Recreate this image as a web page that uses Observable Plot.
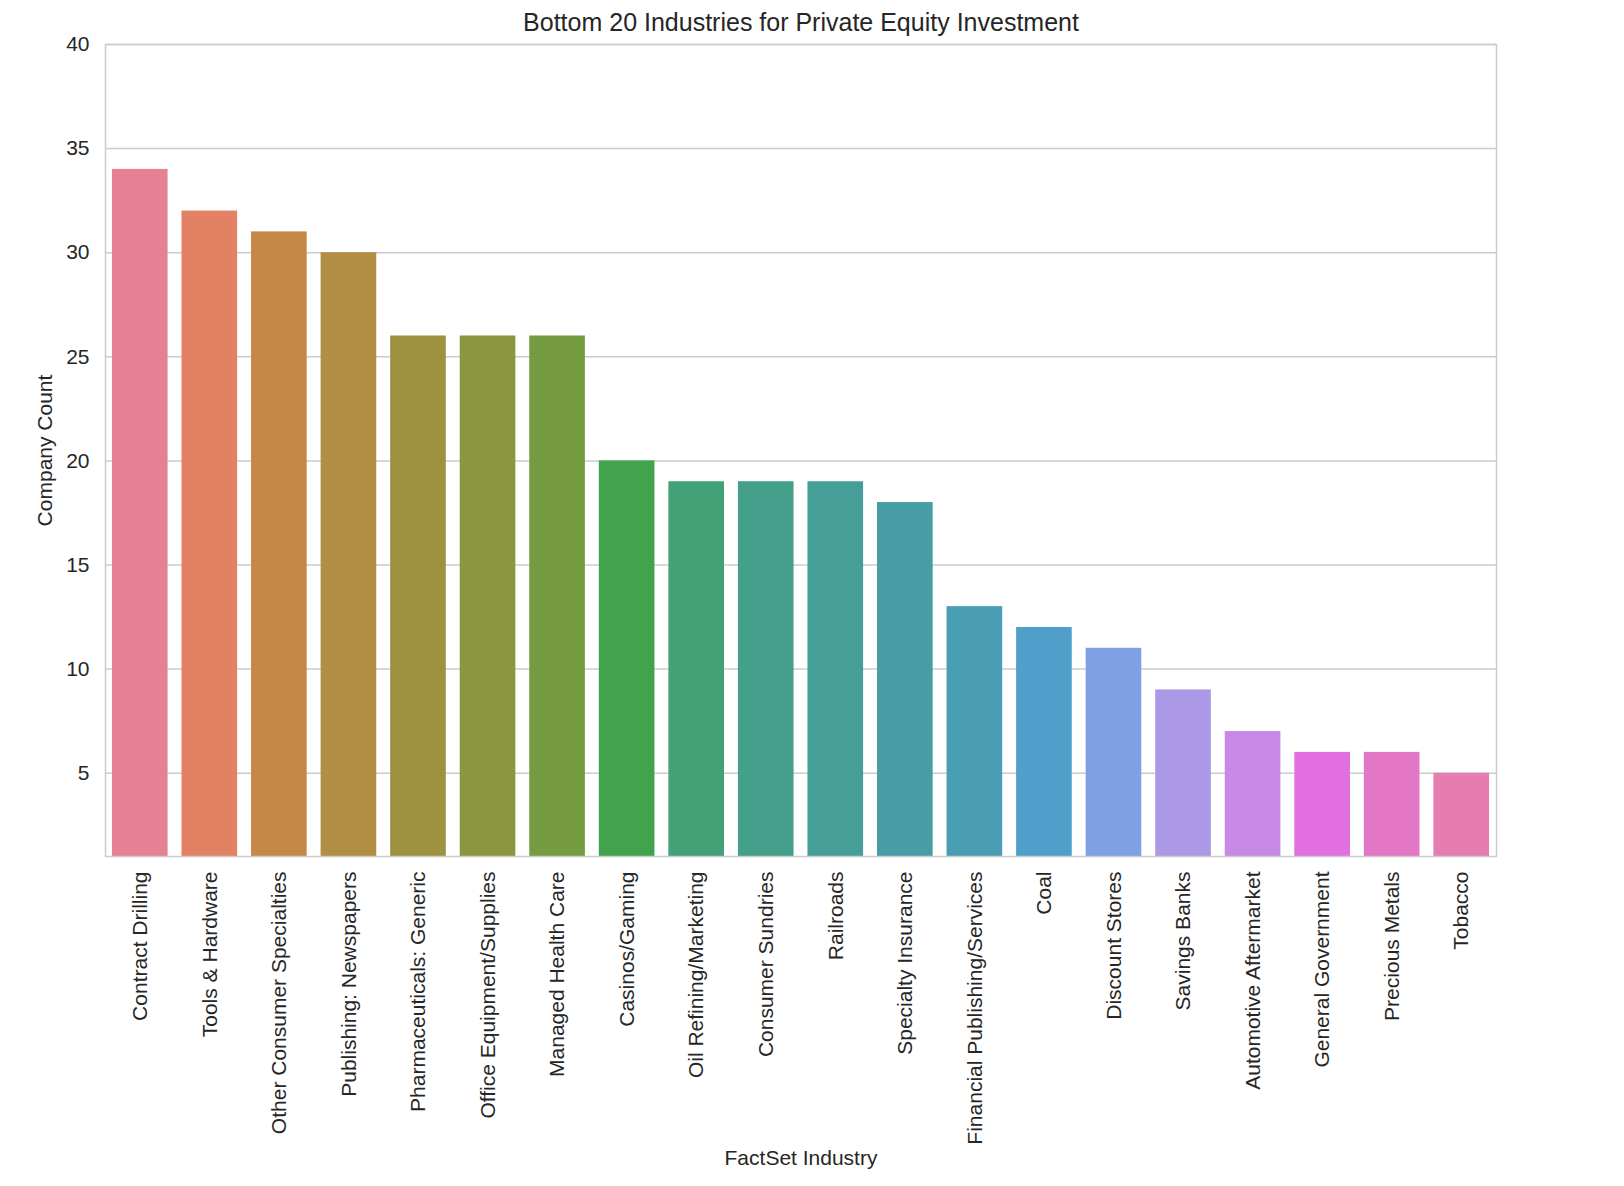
<!DOCTYPE html>
<html>
<head>
<meta charset="utf-8">
<script src="https://cdn.jsdelivr.net/npm/d3@7"></script>
<script src="https://cdn.jsdelivr.net/npm/@observablehq/plot@0.6"></script>
<style>
  html, body { margin: 0; padding: 0; background: #fff; }
  body { width: 1624px; font-family: "Liberation Sans", Arial, sans-serif; }
  svg { display: block; }
</style>
</head>
<body>
<div id="chart"></div>
<script>
const title = "Bottom 20 Industries for Private Equity Investment";
const xLabel = "FactSet Industry";
const yLabel = "Company Count";
const industries = [
  "Contract Drilling", "Tools & Hardware", "Other Consumer Specialties", "Publishing: Newspapers",
  "Pharmaceuticals: Generic", "Office Equipment/Supplies", "Managed Health Care", "Casinos/Gaming",
  "Oil Refining/Marketing", "Consumer Sundries", "Railroads", "Specialty Insurance",
  "Financial Publishing/Services", "Coal", "Discount Stores", "Savings Banks",
  "Automotive Aftermarket", "General Government", "Precious Metals", "Tobacco"
];
const counts = [34, 32, 31, 30, 26, 26, 26, 20, 19, 19, 19, 18, 13, 12, 11, 9, 7, 6, 6, 5];
const yTicks = [5, 10, 15, 20, 25, 30, 35, 40];

// HSLuv (husl) -> RGB, as used by seaborn's husl_palette
const M = [[3.240969941904521, -1.537383177570093, -0.498610760293],
           [-0.96924363628087, 1.87596750150772, 0.041555057407175],
           [0.055630079696993, -0.20397695888897, 1.056971514242878]];
const refU = 0.19783000664283, refV = 0.46831999493879;
const kappa = 903.2962962, epsilon = 0.0088564516;
function getBounds(L) {
  const sub1 = Math.pow(L + 16, 3) / 1560896;
  const sub2 = sub1 > epsilon ? sub1 : L / kappa;
  const ret = [];
  for (const [m1, m2, m3] of M) {
    for (const t of [0, 1]) {
      const top1 = (284517 * m1 - 94839 * m3) * sub2;
      const top2 = (838422 * m3 + 769860 * m2 + 731718 * m1) * L * sub2 - 769860 * t * L;
      const bottom = (632260 * m3 - 126452 * m2) * sub2 + 126452 * t;
      ret.push([top1 / bottom, top2 / bottom]);
    }
  }
  return ret;
}
function maxChroma(L, H) {
  const hr = H / 360 * 2 * Math.PI;
  let min = Infinity;
  for (const [slope, intercept] of getBounds(L)) {
    const len = intercept / (Math.sin(hr) - slope * Math.cos(hr));
    if (len >= 0) min = Math.min(min, len);
  }
  return min;
}
function huslToRgb(H, S, L) {
  const C = maxChroma(L, H) / 100 * S;
  const hr = H / 360 * 2 * Math.PI;
  const U = Math.cos(hr) * C, V = Math.sin(hr) * C;
  const varU = U / (13 * L) + refU, varV = V / (13 * L) + refV;
  const Y = L <= 8 ? L / kappa : Math.pow((L + 16) / 116, 3);
  const X = 0 - (9 * Y * varU) / ((varU - 4) * varV - varU * varV);
  const Z = (9 * Y - 15 * varV * Y - varV * X) / (3 * varV);
  const lin = [X, Y, Z];
  return M.map(row => {
    const c = row[0] * lin[0] + row[1] * lin[1] + row[2] * lin[2];
    const v = c <= 0.0031308 ? 12.92 * c : 1.055 * Math.pow(c, 1 / 2.4) - 0.055;
    return Math.max(0, Math.min(1, v));
  });
}
function huslPalette(n, h = 0.01, s = 0.9, l = 0.65) {
  const out = [];
  for (let i = 0; i < n; i++) {
    const hue = ((i / n + h) % 1) * 359;
    const [r, g, b] = huslToRgb(hue, s * 99, l * 99);
    const c = d3.hsl(d3.rgb(r * 255, g * 255, b * 255));
    c.s *= 0.75; // seaborn barplot desaturation
    out.push(c.formatHex());
  }
  return out;
}
const palette = huslPalette(industries.length);

const data = industries.map((industry, i) => ({industry, count: counts[i]}));

const chart = Plot.plot({
  width: 1624,
  height: 1186,
  marginLeft: 105,
  marginRight: 128,
  marginTop: 44,
  marginBottom: 330,
  style: {fontFamily: '"Liberation Sans", Arial, sans-serif', fontSize: "21px", color: "#262626", background: "#fff"},
  x: {domain: industries, paddingInner: 0.2, paddingOuter: 0.1, round: false, label: null},
  y: {domain: [1, 40], label: null},
  color: {domain: industries, range: palette},
  marks: [
    Plot.gridY(yTicks, {stroke: "#cccccc", strokeOpacity: 1, strokeWidth: 1.5}),
    Plot.barY(data, {x: "industry", y: "count", fill: "industry", clip: true}),
    Plot.frame({stroke: "#cccccc", strokeWidth: 1.5}),
    Plot.axisY({ticks: yTicks, tickSize: 0, tickPadding: 16, fontSize: 21, label: null}),
    Plot.axisX({tickSize: 0, tickPadding: 15, tickRotate: -90, fontSize: 21, label: null}),
    Plot.text([title], {frameAnchor: "top", lineAnchor: "middle", textAnchor: "middle", dy: -22, fontSize: 25, fill: "#262626"}),
    Plot.text([yLabel], {frameAnchor: "left", textAnchor: "middle", lineAnchor: "middle", rotate: -90, dx: -60, fontSize: 21, fill: "#262626"}),
    Plot.text([xLabel], {frameAnchor: "bottom", textAnchor: "middle", lineAnchor: "middle", dy: 302, fontSize: 21, fill: "#262626"})
  ]
});
document.getElementById("chart").appendChild(chart);
</script>
</body>
</html>
